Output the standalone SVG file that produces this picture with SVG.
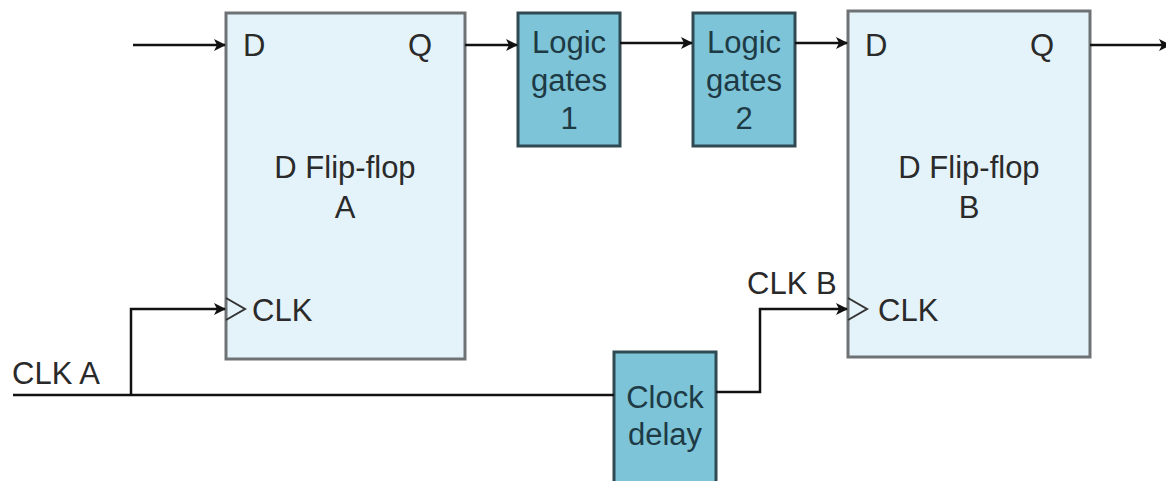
<svg xmlns="http://www.w3.org/2000/svg" width="1166" height="481" viewBox="0 0 1166 481">
<defs>
<marker id="arr" viewBox="0 0 12 12" refX="11" refY="6" markerWidth="12" markerHeight="12" markerUnits="userSpaceOnUse" orient="auto">
<path d="M0,0 L12,6 L0,12 L3,6 Z" fill="#111"/>
</marker>
<style>
.ff{fill:#e4f2f9;stroke:#6e7275;stroke-width:3}
.lg{fill:#7dc4d8;stroke:#2f4a52;stroke-width:3}
.t{font-family:"Liberation Sans",Arial,sans-serif;font-size:31px;fill:#2a2a2a}
.tl{font-family:"Liberation Sans",Arial,sans-serif;font-size:31px;fill:#1e3a44;text-anchor:middle}
.c{fill:none;stroke:#111;stroke-width:2.5}
.clk{fill:none;stroke:#333;stroke-width:2}
</style>
</defs>
<rect width="1166" height="481" fill="#fff"/>
<g id="ffA">
<rect class="ff" x="226" y="13" width="239" height="346"/>
<path class="clk" d="M226,298 L245,309 L226,320"/>
<text class="t" x="243" y="56">D</text>
<text class="t" x="408" y="56">Q</text>
<text class="t" x="345" y="178" text-anchor="middle">D Flip-flop</text>
<text class="t" x="345" y="218" text-anchor="middle">A</text>
<text class="t" x="252" y="321">CLK</text>
</g>
<g id="lg1">
<rect class="lg" x="518" y="13" width="102" height="133"/>
<text class="tl" x="569" y="53">Logic</text>
<text class="tl" x="569" y="91">gates</text>
<text class="tl" x="569" y="129">1</text>
</g>
<g id="lg2">
<rect class="lg" x="693" y="13" width="102" height="133"/>
<text class="tl" x="744" y="53">Logic</text>
<text class="tl" x="744" y="91">gates</text>
<text class="tl" x="744" y="129">2</text>
</g>
<g id="ffB">
<rect class="ff" x="848" y="11" width="242" height="346"/>
<path class="clk" d="M848,298 L867,309 L848,320"/>
<text class="t" x="865" y="56">D</text>
<text class="t" x="1030" y="56">Q</text>
<text class="t" x="969" y="178" text-anchor="middle">D Flip-flop</text>
<text class="t" x="969" y="218" text-anchor="middle">B</text>
<text class="t" x="878" y="321">CLK</text>
</g>
<g id="delay">
<rect class="lg" x="614" y="352" width="102" height="140"/>
<text class="tl" x="665" y="408">Clock</text>
<text class="tl" x="665" y="445">delay</text>
</g>
<g id="connectors">
<path class="c" d="M133,45 L225,45" marker-end="url(#arr)"/>
<path class="c" d="M465,45 L517,45" marker-end="url(#arr)"/>
<path class="c" d="M620,43 L692,43" marker-end="url(#arr)"/>
<path class="c" d="M795,43 L847,43" marker-end="url(#arr)"/>
<path class="c" d="M1090,45 L1170,45" marker-end="url(#arr)"/>
<path class="c" d="M13,395 L614,395"/>
<path class="c" d="M131,395 L131,309 L225,309" marker-end="url(#arr)"/>
<path class="c" d="M716,392 L760,392 L760,309 L847,309" marker-end="url(#arr)"/>
</g>
<g id="labels">
<text class="t" x="12" y="384">CLK A</text>
<text class="t" x="747" y="294">CLK B</text>
</g>
</svg>
